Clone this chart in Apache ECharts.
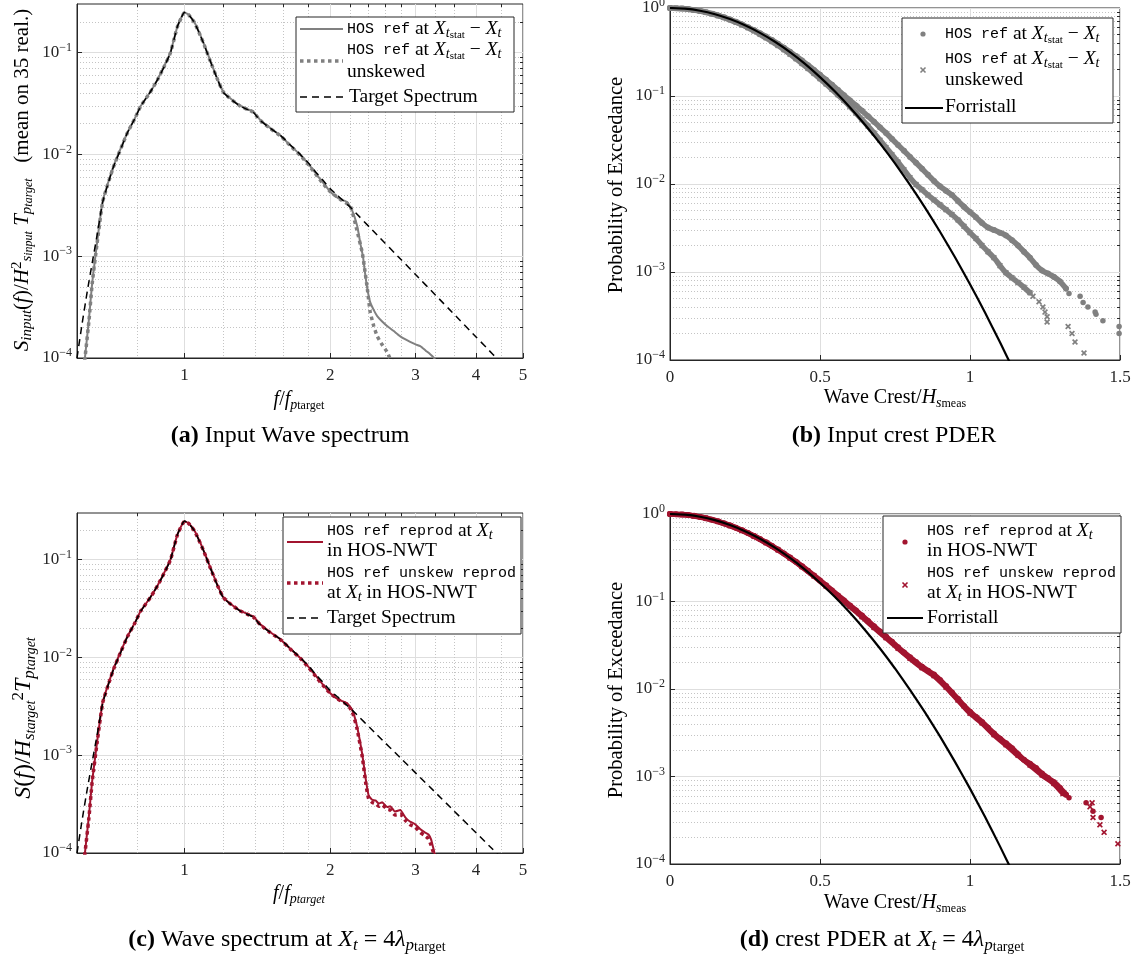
<!DOCTYPE html>
<html><head><meta charset="utf-8">
<script src="https://cdn.jsdelivr.net/npm/echarts@6.0.0/dist/echarts.min.js"></script>
<style>html,body{margin:0;padding:0;background:#fff}#c{width:1142px;height:963px}</style>
</head><body><div id="c"></div>
<script>
// ---------- DATA ----------
// Panel (a)/(c): normalised frequency f/fp and spectral density
const fTarget = [0.60,0.615,0.63,0.645,0.66,0.678,0.70,0.714,0.74,0.763,0.79,0.812,0.85,0.88,0.91,0.936,0.967,1.0,1.02,1.05,1.094,1.13,1.17,1.203,1.25,1.30,1.35,1.388,1.434,1.50,1.578,1.65,1.734,1.80,1.862,1.93,2.0,2.2,2.5,2.8,3.0,3.3,3.6,4.0,4.33,4.7,5.0];
const sTarget = [1.0e-4,2.2e-4,4.5e-4,8.6e-4,1.6e-3,3.4e-3,5.7e-3,7.6e-3,1.15e-2,1.64e-2,2.25e-2,2.96e-2,4.1e-2,5.43e-2,7.4e-2,0.100,0.180,0.248,0.235,0.195,0.125,0.083,0.0543,0.0406,0.0345,0.0300,0.0275,0.0258,0.0215,0.0182,0.0154,0.0125,0.0100,0.0083,0.0068,0.0056,0.0046,3.02e-3,1.61e-3,9.27e-4,6.6e-4,4.14e-4,2.70e-4,1.61e-4,1.09e-4,7.3e-5,5.4e-5];

const fHosA = [0.62,0.635,0.645,0.66,0.678,0.70,0.714,0.74,0.763,0.79,0.812,0.85,0.88,0.91,0.936,0.967,1.0,1.02,1.05,1.094,1.13,1.17,1.203,1.25,1.30,1.35,1.388,1.434,1.50,1.578,1.65,1.734,1.80,1.862,1.93,2.0,2.08,2.168,2.22,2.274,2.31,2.336,2.36,2.386,2.418,2.46,2.50,2.56,2.62,2.70,2.786,2.86,2.924,3.0,3.068,3.15,3.216,3.27,3.30];
const sHosA = [8e-5,2.4e-4,5.5e-4,1.35e-3,3.5e-3,5.8e-3,7.7e-3,1.17e-2,1.65e-2,2.26e-2,2.98e-2,4.1e-2,5.45e-2,7.5e-2,0.101,0.180,0.247,0.236,0.196,0.126,0.084,0.055,0.0412,0.0348,0.0303,0.0278,0.0262,0.0218,0.0183,0.0153,0.0124,0.0099,0.0081,0.0066,0.0053,0.0043,0.0037,0.0034,0.0028,0.00197,0.0013,0.0010,0.00068,0.000475,0.000354,0.000295,0.000258,0.000228,0.000206,0.000185,0.000164,0.000152,0.000144,0.000136,0.000131,0.000118,0.000109,0.000101,0.000095];

const fUnskA = [0.62,0.635,0.645,0.66,0.678,0.70,0.714,0.74,0.763,0.79,0.812,0.85,0.88,0.91,0.936,0.967,1.0,1.02,1.05,1.094,1.13,1.17,1.203,1.25,1.30,1.35,1.388,1.434,1.50,1.578,1.65,1.734,1.80,1.862,1.93,2.0,2.1,2.2,2.27,2.328,2.36,2.386,2.418,2.46,2.50,2.56,2.62,2.66,2.70];
const sUnskA = [8e-5,2.3e-4,5.4e-4,1.33e-3,3.45e-3,5.7e-3,7.6e-3,1.16e-2,1.64e-2,2.25e-2,2.97e-2,4.08e-2,5.42e-2,7.45e-2,0.100,0.179,0.246,0.235,0.195,0.125,0.083,0.0545,0.041,0.0346,0.0301,0.0276,0.0259,0.0216,0.0181,0.0152,0.0123,0.0098,0.0080,0.0065,0.0052,0.0043,0.0036,0.0031,0.0018,0.00109,0.00070,0.000475,0.000283,0.000205,0.000164,0.000135,0.000115,0.000098,0.00009];

const fReprC = [0.62,0.635,0.645,0.66,0.678,0.70,0.714,0.74,0.763,0.79,0.812,0.85,0.88,0.91,0.936,0.967,1.0,1.02,1.05,1.094,1.13,1.17,1.203,1.25,1.30,1.35,1.388,1.434,1.50,1.578,1.65,1.734,1.80,1.862,1.93,2.0,2.08,2.168,2.22,2.27,2.33,2.37,2.40,2.44,2.48,2.52,2.56,2.62,2.66,2.72,2.79,2.86,2.92,2.99,3.07,3.14,3.19,3.23,3.26,3.29];
const sReprC = [8e-5,2.4e-4,5.5e-4,1.35e-3,3.5e-3,5.8e-3,7.7e-3,1.17e-2,1.65e-2,2.26e-2,2.98e-2,4.1e-2,5.45e-2,7.5e-2,0.101,0.180,0.247,0.236,0.196,0.126,0.084,0.055,0.0412,0.0348,0.0303,0.0278,0.0262,0.0218,0.0183,0.0153,0.0124,0.0099,0.0081,0.0066,0.0053,0.0043,0.0037,0.0034,0.0029,0.0020,0.0010,0.00055,0.00039,0.00035,0.000345,0.00032,0.00033,0.000295,0.00030,0.000265,0.000275,0.00023,0.00021,0.000198,0.000175,0.000162,0.000155,0.000138,0.000115,0.000095];

const fUnskC = [0.62,0.635,0.645,0.66,0.678,0.70,0.714,0.74,0.763,0.79,0.812,0.85,0.88,0.91,0.936,0.967,1.0,1.02,1.05,1.094,1.13,1.17,1.203,1.25,1.30,1.35,1.388,1.434,1.50,1.578,1.65,1.734,1.80,1.862,1.93,2.0,2.08,2.168,2.22,2.27,2.33,2.37,2.40,2.44,2.48,2.52,2.56,2.62,2.66,2.72,2.79,2.86,2.92,2.99,3.07,3.14,3.19,3.23,3.27,3.30];
const sUnskC = [8e-5,2.3e-4,5.4e-4,1.33e-3,3.45e-3,5.7e-3,7.6e-3,1.16e-2,1.64e-2,2.25e-2,2.97e-2,4.08e-2,5.42e-2,7.45e-2,0.100,0.179,0.246,0.235,0.195,0.125,0.083,0.0545,0.041,0.0346,0.0301,0.0276,0.0259,0.0216,0.0181,0.0152,0.0123,0.0098,0.0080,0.0065,0.0052,0.0043,0.0037,0.0033,0.0028,0.0019,0.00095,0.00050,0.00036,0.00033,0.00032,0.00030,0.00031,0.00028,0.000275,0.000245,0.00025,0.000215,0.000195,0.000185,0.000162,0.00015,0.00014,0.00012,0.0001,0.00009];

// Panels (b)/(d): wave crest / Hs and probability of exceedance
const crestDense = [0,0.02,0.04,0.06,0.08,0.10,0.12,0.14,0.16,0.18,0.20,0.22,0.24,0.26,0.28,0.30,0.32,0.34,0.36,0.38,0.40,0.42,0.44,0.46,0.48,0.50,0.52,0.54,0.56,0.58,0.60,0.62,0.64,0.66,0.68,0.70,0.72,0.74,0.76,0.78,0.80,0.82,0.84,0.86,0.88,0.90,0.92,0.94,0.96,0.98,1.00,1.02,1.04,1.06,1.08,1.10,1.12,1.14,1.16,1.18,1.20,1.22,1.24,1.26,1.28,1.30,1.32];
const pHosB = [1.0,0.996,0.987,0.972,0.952,0.927,0.897,0.862,0.824,0.783,0.740,0.696,0.651,0.606,0.561,0.517,0.474,0.432,0.392,0.354,0.318,0.284,0.253,0.224,0.198,0.174,0.153,0.134,0.117,0.102,0.089,0.078,0.068,0.059,0.051,0.044,0.038,0.0325,0.0278,0.0238,0.0203,0.0174,0.0149,0.0127,0.0108,0.0094,0.0084,0.0075,0.0064,0.0055,0.0048,0.0042,0.0036,0.0032,0.0030,0.0028,0.0026,0.0023,0.0020,0.0017,0.00145,0.00120,0.00104,0.00096,0.00088,0.00078,0.00065];
const crestHosBTail = [1.33,1.367,1.377,1.393,1.417,1.42,1.443,1.497,1.497];
const pHosBTail = [0.00057,0.00053,0.00045,0.0004,0.00035,0.00033,0.00028,0.00024,0.0002];
const pUnskB = [1.0,0.996,0.986,0.970,0.949,0.923,0.893,0.858,0.819,0.778,0.734,0.689,0.643,0.596,0.549,0.503,0.458,0.415,0.374,0.335,0.299,0.265,0.234,0.206,0.180,0.157,0.137,0.119,0.103,0.089,0.076,0.064,0.054,0.0455,0.038,0.0315,0.026,0.0215,0.0178,0.0145,0.0118,0.0099,0.0086,0.0075,0.0066,0.0058,0.0051,0.0045,0.0039,0.0033,0.0028,0.0024,0.0020,0.0017,0.00145,0.00118,0.00098,0.00086,0.00076,0.00067,0.00058];
const crestUnskBTail = [1.21,1.23,1.243,1.25,1.257,1.257,1.327,1.34,1.35,1.38];
const pUnskBTail = [0.00053,0.00046,0.0004,0.00035,0.00031,0.00027,0.00024,0.0002,0.00016,0.00012];

const pReprD = [1.0,0.996,0.987,0.972,0.952,0.927,0.897,0.862,0.824,0.783,0.740,0.696,0.651,0.606,0.561,0.517,0.474,0.432,0.392,0.354,0.318,0.284,0.253,0.224,0.198,0.174,0.153,0.134,0.117,0.103,0.090,0.079,0.069,0.060,0.052,0.0455,0.0397,0.0346,0.0300,0.0262,0.0230,0.0203,0.0180,0.0162,0.0146,0.0127,0.0108,0.0091,0.0077,0.0064,0.0055,0.0048,0.0042,0.0036,0.0031,0.0027,0.0024,0.0021,0.0018,0.00155,0.00140,0.00125,0.00108,0.00096,0.00086,0.00074,0.00062];
const crestReprDTail = [1.33,1.387,1.41,1.437];
const pReprDTail = [0.00057,0.0005,0.0004,0.00034];
const crestUnskD = [0,0.04,0.08,0.12,0.16,0.20,0.24,0.28,0.32,0.36,0.40,0.44,0.48,0.52,0.56,0.60,0.64,0.68,0.72,0.76,0.80,0.84,0.88,0.92,0.96,1.00,1.04,1.08,1.12,1.16,1.20,1.24,1.28,1.31];
const pUnskD = [1.0,0.986,0.950,0.894,0.820,0.736,0.646,0.556,0.469,0.388,0.314,0.250,0.195,0.150,0.115,0.088,0.067,0.0505,0.0385,0.0292,0.0224,0.0175,0.0142,0.0105,0.0075,0.0053,0.0041,0.0030,0.0023,0.00175,0.00135,0.00104,0.00083,0.00064];
const crestUnskDTail = [1.40,1.407,1.41,1.433,1.447,1.493];
const pUnskDTail = [0.00045,0.0005,0.00034,0.00028,0.00023,0.00017];

const crestForr = [0,0.05,0.1,0.15,0.2,0.25,0.3,0.35,0.4,0.45,0.5,0.55,0.6,0.65,0.7,0.75,0.8,0.85,0.9,0.95,1.0,1.05,1.1,1.15,1.2];
const pForr = [1,0.982,0.930,0.850,0.749,0.637,0.522,0.413,0.315,0.2315,0.164,0.1124,0.0742,0.0472,0.0290,0.01716,0.0098,0.0054,0.00287,0.00147,7.27e-4,3.46e-4,1.59e-4,7.1e-5,3.1e-5];

// Tick values
const fTicks = [1,2,3,4,5];
const fMinor = [0.8,1.2,1.4,1.6,1.8,2.2,2.4,2.6,2.8,3.3,3.6,4.5];
const sDecades = [1e-4,1e-3,1e-2,1e-1];
const sMinorA = [2e-4,3e-4,4e-4,5e-4,6e-4,7e-4,8e-4,9e-4,2e-3,3e-3,4e-3,5e-3,6e-3,7e-3,8e-3,9e-3,2e-2,3e-2,4e-2,5e-2,6e-2,7e-2,8e-2,9e-2,2e-1];
const pMinorB = [2e-4,3e-4,4e-4,5e-4,6e-4,7e-4,8e-4,9e-4,2e-3,3e-3,4e-3,5e-3,6e-3,7e-3,8e-3,9e-3,2e-2,3e-2,4e-2,5e-2,6e-2,7e-2,8e-2,9e-2,0.2,0.3,0.4,0.5,0.6,0.7,0.8,0.9];

// ---------- STYLE ----------
const SERIF = "'Liberation Serif','DejaVu Serif',serif";
const MONO = "'Liberation Mono','DejaVu Sans Mono',monospace";
const AX = '#262626', GRAY = '#808080', RED = '#A2142F';
const zip = (a, b) => a.map((v, i) => [v, b[i]]);

const tickRich = {
  b: {fontFamily: SERIF, fontSize: 17, color: AX, lineHeight: 22},
  sup: {fontFamily: SERIF, fontSize: 12, color: AX, lineHeight: 12, verticalAlign: 'top'}
};
const decFmt = v => { const e = Math.round(Math.log10(v)); return '{b|10}{sup|' + (e === 0 ? '0' : '\u2212' + (-e)) + '}'; };

const majorSplit = {show: true, lineStyle: {color: '#dedede', width: 1, type: 'solid'}};
const minorSplit = {show: true, lineStyle: {color: '#c4c4c4', width: 1, type: [1, 2]}};

function grid(l, t, w, h) {
  return {left: l, top: t, width: w, height: h, show: true, borderColor: AX, borderWidth: 1,
          backgroundColor: '#fff', containLabel: false, outerBoundsMode: 'none'};
}
function logFX(gi) {
  return [{
    type: 'log', gridIndex: gi, min: 0.6, max: 5, position: 'bottom',
    axisLine: {show: true, lineStyle: {color: AX}},
    axisTick: {show: true, inside: true, length: 5, customValues: fTicks, lineStyle: {color: AX}},
    axisLabel: {show: true, customValues: fTicks, margin: 9, fontFamily: SERIF, fontSize: 17, color: AX,
                formatter: v => String(Math.round(v))},
    splitLine: majorSplit
  }, {
    type: 'log', gridIndex: gi, min: 0.6, max: 5, position: 'top',
    axisLine: {show: false}, axisLabel: {show: false},
    axisTick: {show: true, inside: true, length: 3, customValues: fMinor, lineStyle: {color: AX}},
    splitLine: minorSplit
  }];
}
function logY(gi, min, max, minor) {
  const dec = sDecades.concat(max === 1 ? [1] : []);
  return [{
    type: 'log', gridIndex: gi, min: min, max: max, position: 'left',
    axisLine: {show: true, lineStyle: {color: AX}},
    axisTick: {show: true, inside: true, length: 5, customValues: dec, lineStyle: {color: AX}},
    axisLabel: {show: true, customValues: dec, margin: 5, formatter: decFmt, rich: tickRich,
                showMinLabel: true, showMaxLabel: true},
    splitLine: majorSplit
  }, {
    type: 'log', gridIndex: gi, min: min, max: max, position: 'right',
    axisLine: {show: false}, axisLabel: {show: false},
    axisTick: {show: true, inside: true, length: 3, customValues: minor, lineStyle: {color: AX}},
    splitLine: minorSplit
  }];
}
function crestX(gi) {
  return {
    type: 'value', gridIndex: gi, min: 0, max: 1.5, interval: 0.5, position: 'bottom',
    axisLine: {show: true, lineStyle: {color: AX}},
    axisTick: {show: true, inside: true, length: 5, lineStyle: {color: AX}},
    axisLabel: {show: true, margin: 9, fontFamily: SERIF, fontSize: 17, color: AX, showMinLabel: true, showMaxLabel: true},
    splitLine: majorSplit
  };
}

const xA = logFX(0), xC = logFX(2);
const yA = logY(0, 1e-4, 0.3, sMinorA), yB = logY(1, 1e-4, 1, pMinorB);
const yC = logY(2, 1e-4, 0.3, sMinorA), yD = logY(3, 1e-4, 1, pMinorB);

// xAxis: 0 a-main, 1 a-minor, 2 b, 3 c-main, 4 c-minor, 5 d
const xAxis = [xA[0], xA[1], crestX(1), xC[0], xC[1], crestX(3)];
// yAxis: 0 a, 1 a-minor, 2 b, 3 b-minor, 4 c, 5 c-minor, 6 d, 7 d-minor
const yAxis = [yA[0], yA[1], yB[0], yB[1], yC[0], yC[1], yD[0], yD[1]];

const XPATH = 'path://M0,2L2,0L5,3L8,0L10,2L7,5L10,8L8,10L5,7L2,10L0,8L3,5Z';

function lineS(xi, yi, data, color, width, type, z) {
  return {type: 'line', xAxisIndex: xi, yAxisIndex: yi, data: data, symbol: 'none', smooth: 0.15,
          clip: true, z: z, lineStyle: {color: color, width: width, type: type, cap: 'butt'}};
}
// densely packed markers: every marker drawn, the overlapping markers forming a band
function band(xi, yi, data, color, symbol, z) {
  return {type: 'line', xAxisIndex: xi, yAxisIndex: yi, data: data, symbol: symbol, symbolSize: 6,
          showSymbol: true, showAllSymbol: true, smooth: 0.2, clip: true, z: z,
          itemStyle: {color: color, borderWidth: 0},
          lineStyle: {color: color, width: 5.5, cap: 'round', join: 'round'}};
}
function scat(xi, yi, data, color, symbol, size, z) {
  return {type: 'scatter', xAxisIndex: xi, yAxisIndex: yi, data: data, symbol: symbol, symbolSize: size,
          clip: true, z: z, itemStyle: {color: color, opacity: 1}};
}

const series = [
  // (a)
  lineS(0, 0, zip(fHosA, sHosA), GRAY, 2, 'solid', 2),
  lineS(0, 0, zip(fUnskA, sUnskA), GRAY, 3.5, [3.5, 3.5], 3),
  lineS(0, 0, zip(fTarget, sTarget), '#000', 1.5, [7, 5], 4),
  // (b)
  band(2, 2, zip(crestDense.slice(0, pUnskB.length), pUnskB), GRAY, XPATH, 2),
  scat(2, 2, zip(crestUnskBTail, pUnskBTail), GRAY, XPATH, 6, 2),
  band(2, 2, zip(crestDense, pHosB), GRAY, 'circle', 3),
  scat(2, 2, zip(crestHosBTail, pHosBTail), GRAY, 'circle', 5.5, 3),
  lineS(2, 2, zip(crestForr, pForr), '#000', 2.2, 'solid', 5),
  // (c)
  lineS(3, 4, zip(fReprC, sReprC), RED, 2, 'solid', 2),
  lineS(3, 4, zip(fUnskC, sUnskC), RED, 3.5, [3.5, 3.5], 3),
  lineS(3, 4, zip(fTarget, sTarget), '#000', 1.5, [7, 5], 4),
  // (d)
  band(5, 6, zip(crestUnskD, pUnskD), RED, XPATH, 2),
  scat(5, 6, zip(crestUnskDTail, pUnskDTail), RED, XPATH, 6, 2),
  band(5, 6, zip(crestDense, pReprD), RED, 'circle', 3),
  scat(5, 6, zip(crestReprDTail, pReprDTail), RED, 'circle', 5.5, 3),
  lineS(5, 6, zip(crestForr, pForr), '#000', 2.2, 'solid', 5)
];

// ---------- TEXT / LEGENDS (graphic) ----------
function gr(base) {
  const c = '#000';
  const s1 = Math.round(base * 0.7), s2 = Math.round(base * 0.58);
  return {
    n: {fontFamily: SERIF, fontSize: base, fill: c, lineHeight: base + 4},
    i: {fontFamily: SERIF, fontSize: base, fontStyle: 'italic', fill: c, lineHeight: base + 4},
    b: {fontFamily: SERIF, fontSize: base, fontWeight: 'bold', fill: c, lineHeight: base + 4},
    m: {fontFamily: MONO, fontSize: 15, fill: c, lineHeight: base + 4},
    sub: {fontFamily: SERIF, fontSize: s1, fontStyle: 'italic', fill: c, lineHeight: Math.round(base * 0.6), verticalAlign: 'bottom'},
    subr: {fontFamily: SERIF, fontSize: s1, fill: c, lineHeight: Math.round(base * 0.6), verticalAlign: 'bottom'},
    ss: {fontFamily: SERIF, fontSize: s2, fill: c, lineHeight: Math.round(base * 0.35), verticalAlign: 'bottom'},
    ssi: {fontFamily: SERIF, fontSize: s2, fontStyle: 'italic', fill: c, lineHeight: Math.round(base * 0.35), verticalAlign: 'bottom'},
    sup: {fontFamily: SERIF, fontSize: s1, fill: c, lineHeight: Math.round(base * 0.6), verticalAlign: 'top'}
  };
}
function T(x, y, text, base, align, rot) {
  return {type: 'text', x: x, y: y, z: 100, rotation: rot || 0,
    style: {text: text, rich: gr(base), align: align || 'left', textAlign: align || 'left',
            verticalAlign: 'middle', textVerticalAlign: 'middle', fill: '#000',
            fontFamily: SERIF, fontSize: base}};
}
function R(x, y, w, h) {
  return {type: 'rect', z: 99, shape: {x: x, y: y, width: w, height: h},
          style: {fill: '#fff', stroke: AX, lineWidth: 1}};
}
function L(x1, x2, y, color, width, dash) {
  return {type: 'line', z: 100, shape: {x1: x1, y1: y, x2: x2, y2: y},
          style: {stroke: color, lineWidth: width, lineDash: dash || null, lineCap: 'butt'}};
}
function D(cx, cy, r, color) {
  return {type: 'circle', z: 100, shape: {cx: cx, cy: cy, r: r}, style: {fill: color}};
}
function X(cx, cy, s, color) {
  return [
    {type: 'line', z: 100, shape: {x1: cx - s, y1: cy - s, x2: cx + s, y2: cy + s}, style: {stroke: color, lineWidth: 1.6}},
    {type: 'line', z: 100, shape: {x1: cx - s, y1: cy + s, x2: cx + s, y2: cy - s}, style: {stroke: color, lineWidth: 1.6}}
  ];
}

const LG = 19.5;
const hosAt = '{m|HOS ref}{n| at }{i|X}{sub|t}{ss|stat}{n| \u2212 }{i|X}{sub|t}';
const graphics = [
  // legend (a)
  R(296, 17, 218, 95),
  L(300, 343, 29, GRAY, 2), T(347, 29, hosAt, LG),
  L(300, 343, 61, GRAY, 3.5, [3.5, 3.5]), T(347, 50, hosAt, LG), T(347, 72, '{n|unskewed}', LG),
  L(300, 343, 97, '#000', 1.5, [7, 5]), T(349, 97, '{n|Target Spectrum}', LG),
  // legend (b)
  R(902, 18, 211, 105),
  D(923, 34, 2.6, GRAY), T(945, 34, hosAt, LG),
  ...X(923, 70, 2.5, GRAY), T(945, 59, hosAt, LG), T(945, 80, '{n|unskewed}', LG),
  L(905, 943, 108, '#000', 2.2), T(945, 107, '{n|Forristall}', LG),
  // legend (c)
  R(283, 517, 238, 117),
  L(287, 323, 542, RED, 2), T(327, 531, '{m|HOS ref reprod}{n| at }{i|X}{sub|t}', LG), T(327, 551, '{n|in HOS-NWT}', LG),
  L(287, 323, 583, RED, 3.5, [3.5, 3.5]), T(327, 573, '{m|HOS ref unskew reprod}', LG), T(327, 593, '{n|at }{i|X}{sub|t}{n| in HOS-NWT}', LG),
  L(287, 323, 618, '#000', 1.5, [7, 5]), T(327, 618, '{n|Target Spectrum}', LG),
  // legend (d)
  R(883, 516, 238, 117),
  D(905, 542, 2.6, RED), T(927, 531, '{m|HOS ref reprod}{n| at }{i|X}{sub|t}', LG), T(927, 551, '{n|in HOS-NWT}', LG),
  ...X(905, 585, 2.5, RED), T(927, 573, '{m|HOS ref unskew reprod}', LG), T(927, 593, '{n|at }{i|X}{sub|t}{n| in HOS-NWT}', LG),
  L(887, 923, 618, '#000', 2.2), T(927, 618, '{n|Forristall}', LG),
  // axis names
  T(299, 400, '{i|f}{n|/}{i|f}{sub|p}{ss|target}', 20, 'center'),
  T(895, 398, '{n|Wave Crest/}{i|H}{sub|s}{ss|meas}', 20, 'center'),
  T(299, 894, '{i|f}{n|/}{i|f}{sub|p}{ssi|target}', 20, 'center'),
  T(895, 903, '{n|Wave Crest/}{i|H}{sub|s}{ss|meas}', 20, 'center'),
  T(22, 180, '{i|S}{sub|input}{n|(}{i|f}{n|)/}{i|H}{sup|2}{sub|s}{ssi|input}{n| }{i|T}{sub|p}{ssi|target}{n|   (mean on 35 real.)}', 21, 'center', Math.PI / 2),
  T(617, 185, '{n|Probability of Exceedance}', 20.5, 'center', Math.PI / 2),
  T(24, 718, '{i|S}{n|(}{i|f}{n|)/}{i|H}{sub|s}{ssi|target}{sup|2}{i|T}{sub|p}{ssi|target}', 24, 'center', Math.PI / 2),
  T(617, 690, '{n|Probability of Exceedance}', 20.5, 'center', Math.PI / 2),
  // captions
  T(290, 436, '{b|(a)}{n| Input Wave spectrum}', 24, 'center'),
  T(894, 436, '{b|(b)}{n| Input crest PDER}', 24, 'center'),
  T(287, 940, '{b|(c)}{n| Wave spectrum at }{i|X}{sub|t}{n| = 4}{i|\u03bb}{sub|p}{ss|target}', 24, 'center'),
  T(882, 940, '{b|(d)}{n| crest PDER at }{i|X}{sub|t}{n| = 4}{i|\u03bb}{sub|p}{ss|target}', 24, 'center')
];

const chart = echarts.init(document.getElementById('c'), null, {renderer: 'canvas'});
chart.setOption({
  animation: false,
  backgroundColor: '#fff',
  grid: [grid(77, 4, 446, 354), grid(670, 8, 450, 352), grid(77, 513, 446, 340), grid(670, 514, 450, 350)],
  xAxis: xAxis,
  yAxis: yAxis,
  series: series,
  graphic: {elements: graphics}
});
</script></body></html>
